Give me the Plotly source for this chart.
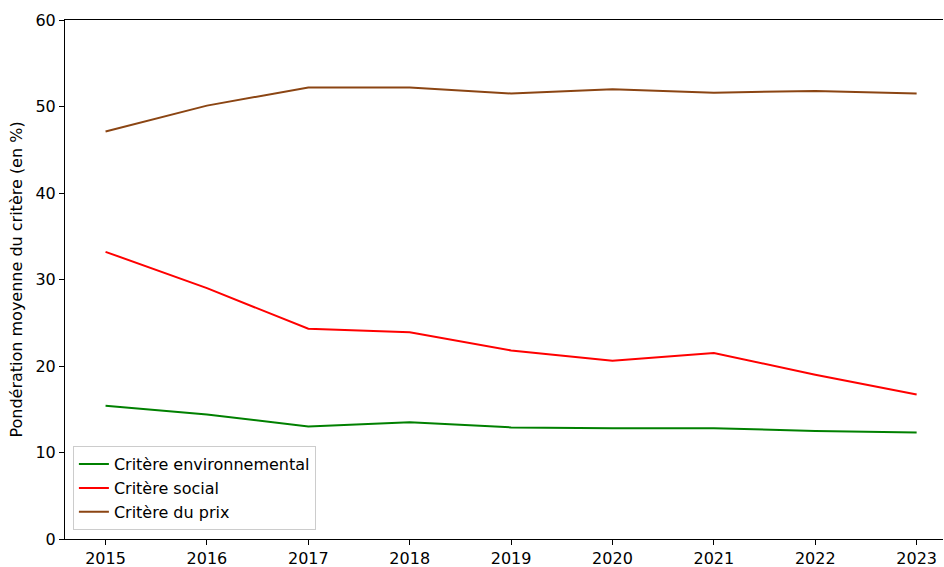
import plotly.graph_objects as go

# données
annees = [2015, 2016, 2017, 2018, 2019, 2020, 2021, 2022, 2023]
critere_env = [15.4, 14.4, 13.0, 13.5, 12.9, 12.8, 12.8, 12.5, 12.3]
critere_social = [33.2, 29.0, 24.3, 23.9, 21.8, 20.6, 21.5, 19.0, 16.7]
critere_prix = [47.1, 50.1, 52.2, 52.2, 51.5, 52.0, 51.6, 51.8, 51.5]

series = [
    ("Critère environnemental", critere_env, "#008000"),
    ("Critère social", critere_social, "#ff0000"),
    ("Critère du prix", critere_prix, "#8b4513"),
]

fig = go.Figure()
for nom, valeurs, couleur in series:
    fig.add_trace(go.Scatter(
        x=annees, y=valeurs, mode="lines", name=nom,
        line=dict(color=couleur, width=2),
    ))

fig.update_layout(
    width=944, height=567,
    margin=dict(l=65, r=1, t=20, b=28),
    plot_bgcolor="white", paper_bgcolor="white",
    font=dict(family="DejaVu Sans", size=16, color="black"),
    showlegend=True,
    legend=dict(
        x=0.009, y=0.017, xanchor="left", yanchor="bottom",
        bgcolor="rgba(255,255,255,0.8)", bordercolor="#cccccc", borderwidth=1,
        font=dict(size=16), tracegroupgap=0,
    ),
)
fig.update_xaxes(
    range=[2014.6, 2023.26], tickvals=annees, showgrid=False, zeroline=False,
    showline=True, linecolor="black", linewidth=1, mirror=True,
    ticks="outside", ticklen=5, tickcolor="black", automargin=False,
)
fig.update_yaxes(
    range=[0, 60], dtick=10, showgrid=False, zeroline=False,
    showline=True, linecolor="black", linewidth=1,
    ticks="outside", ticklen=5, tickcolor="black", automargin=False,
    title=dict(text="Pondération moyenne du critère (en %)", font=dict(size=16), standoff=8),
)

fig.write_html("out.html", config={"displayModeBar": False},
               post_script="document.body.style.margin='0';")
